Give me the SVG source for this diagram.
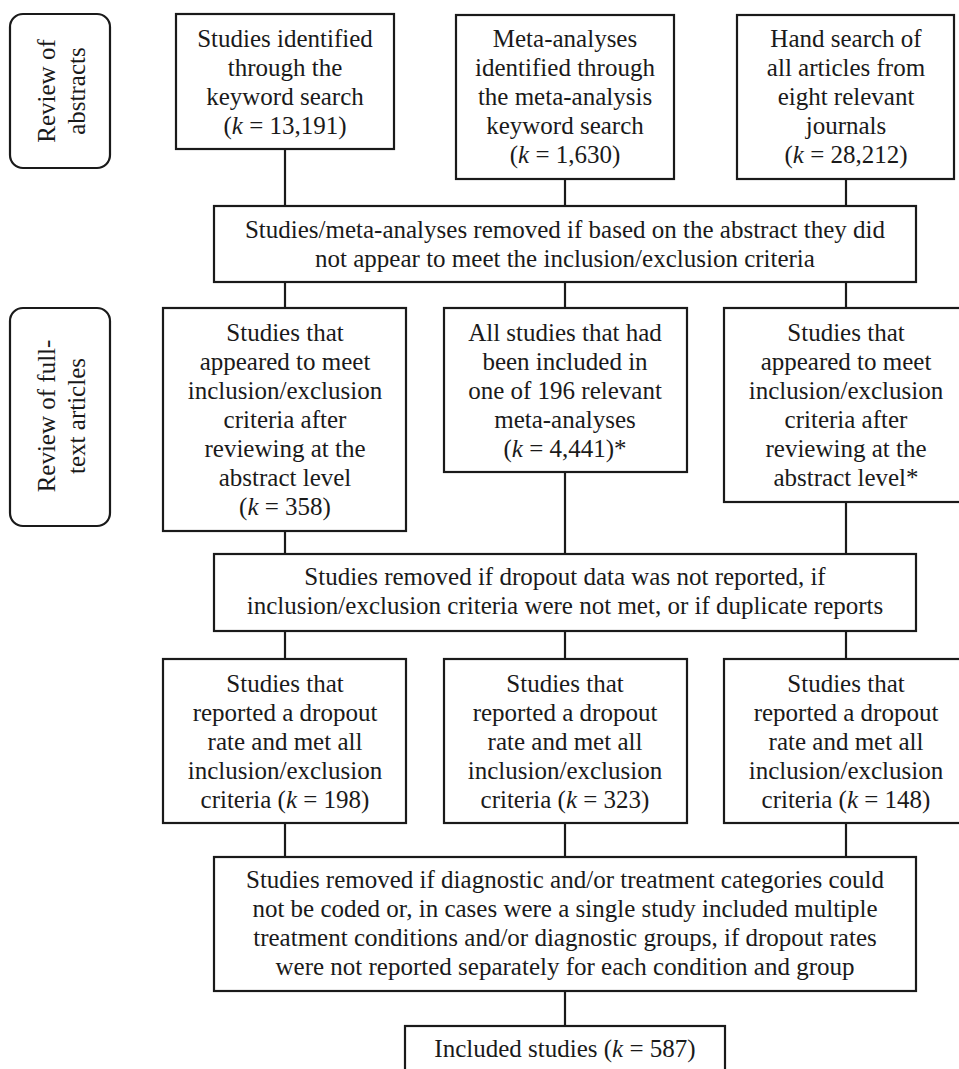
<svg xmlns="http://www.w3.org/2000/svg" width="959" height="1069" viewBox="0 0 959 1069">
<style>
.box{fill:#fff;stroke:#1a1a1a;stroke-width:2.2}
.lbl{fill:#fff;stroke:#1a1a1a;stroke-width:2.2}
.ln{stroke:#1a1a1a;stroke-width:2.2;fill:none}
text{font-family:"Liberation Serif","Times New Roman",serif;font-size:25px;fill:#1a1a1a;text-anchor:middle}
.k{font-style:italic}
</style>
<rect width="959" height="1069" fill="#fff"/>
<g id="connectors">
<line class="ln" x1="285" y1="149" x2="285" y2="206"/>
<line class="ln" x1="565" y1="179" x2="565" y2="206"/>
<line class="ln" x1="846" y1="179" x2="846" y2="206"/>
<line class="ln" x1="285" y1="282" x2="285" y2="308"/>
<line class="ln" x1="565" y1="282" x2="565" y2="308"/>
<line class="ln" x1="846" y1="282" x2="846" y2="308"/>
<line class="ln" x1="285" y1="531" x2="285" y2="554"/>
<line class="ln" x1="565" y1="472" x2="565" y2="554"/>
<line class="ln" x1="846" y1="502" x2="846" y2="554"/>
<line class="ln" x1="285" y1="631" x2="285" y2="659"/>
<line class="ln" x1="565" y1="631" x2="565" y2="659"/>
<line class="ln" x1="846" y1="631" x2="846" y2="659"/>
<line class="ln" x1="285" y1="823" x2="285" y2="857"/>
<line class="ln" x1="565" y1="823" x2="565" y2="857"/>
<line class="ln" x1="846" y1="823" x2="846" y2="857"/>
<line class="ln" x1="565" y1="991" x2="565" y2="1026"/>
</g>
<g id="stage-abstracts">
<rect class="lbl" x="10" y="14" width="100" height="154" rx="13"/>
<g transform="translate(60,91) rotate(-90)">
<text x="0" y="-5">Review of</text>
<text x="0" y="25">abstracts</text>
</g>
</g>
<g id="stage-fulltext">
<rect class="lbl" x="10" y="308" width="100" height="218" rx="13"/>
<g transform="translate(60,416) rotate(-90)">
<text x="0" y="-5">Review of full-</text>
<text x="0" y="25">text articles</text>
</g>
</g>
<g id="a1">
<rect class="box" x="176" y="14" width="218" height="135"/>
<text x="285" y="47">Studies identified</text>
<text x="285" y="76">through the</text>
<text x="285" y="105">keyword search</text>
<text x="285" y="134">(<tspan class="k">k</tspan> = 13,191)</text>
</g>
<g id="a2">
<rect class="box" x="456" y="15" width="218" height="164"/>
<text x="565" y="47">Meta-analyses</text>
<text x="565" y="76">identified through</text>
<text x="565" y="105">the meta-analysis</text>
<text x="565" y="134">keyword search</text>
<text x="565" y="163">(<tspan class="k">k</tspan> = 1,630)</text>
</g>
<g id="a3">
<rect class="box" x="737" y="15" width="217" height="164"/>
<text x="846" y="47">Hand search of</text>
<text x="846" y="76">all articles from</text>
<text x="846" y="105">eight relevant</text>
<text x="846" y="134">journals</text>
<text x="846" y="163">(<tspan class="k">k</tspan> = 28,212)</text>
</g>
<g id="removed-abstract">
<rect class="box" x="214" y="206" width="702" height="76"/>
<text x="565" y="238">Studies/meta-analyses removed if based on the abstract they did</text>
<text x="565" y="267">not appear to meet the inclusion/exclusion criteria</text>
</g>
<g id="b1">
<rect class="box" x="163" y="308" width="243" height="223"/>
<text x="285" y="341">Studies that</text>
<text x="285" y="370">appeared to meet</text>
<text x="285" y="399">inclusion/exclusion</text>
<text x="285" y="428">criteria after</text>
<text x="285" y="457">reviewing at the</text>
<text x="285" y="486">abstract level</text>
<text x="285" y="515">(<tspan class="k">k</tspan> = 358)</text>
</g>
<g id="b2">
<rect class="box" x="444" y="308" width="243" height="164"/>
<text x="565" y="341">All studies that had</text>
<text x="565" y="370">been included in</text>
<text x="565" y="399">one of 196 relevant</text>
<text x="565" y="428">meta-analyses</text>
<text x="565" y="457">(<tspan class="k">k</tspan> = 4,441)*</text>
</g>
<g id="b3">
<rect class="box" x="724" y="308" width="244" height="194"/>
<text x="846" y="341">Studies that</text>
<text x="846" y="370">appeared to meet</text>
<text x="846" y="399">inclusion/exclusion</text>
<text x="846" y="428">criteria after</text>
<text x="846" y="457">reviewing at the</text>
<text x="846" y="486">abstract level*</text>
</g>
<g id="removed-fulltext">
<rect class="box" x="214" y="554" width="702" height="77"/>
<text x="565" y="585">Studies removed if dropout data was not reported, if</text>
<text x="565" y="614">inclusion/exclusion criteria were not met, or if duplicate reports</text>
</g>
<g id="c1">
<rect class="box" x="163" y="659" width="243" height="164"/>
<text x="285" y="692">Studies that</text>
<text x="285" y="721">reported a dropout</text>
<text x="285" y="750">rate and met all</text>
<text x="285" y="779">inclusion/exclusion</text>
<text x="285" y="808">criteria (<tspan class="k">k</tspan> = 198)</text>
</g>
<g id="c2">
<rect class="box" x="444" y="659" width="243" height="164"/>
<text x="565" y="692">Studies that</text>
<text x="565" y="721">reported a dropout</text>
<text x="565" y="750">rate and met all</text>
<text x="565" y="779">inclusion/exclusion</text>
<text x="565" y="808">criteria (<tspan class="k">k</tspan> = 323)</text>
</g>
<g id="c3">
<rect class="box" x="724" y="659" width="244" height="164"/>
<text x="846" y="692">Studies that</text>
<text x="846" y="721">reported a dropout</text>
<text x="846" y="750">rate and met all</text>
<text x="846" y="779">inclusion/exclusion</text>
<text x="846" y="808">criteria (<tspan class="k">k</tspan> = 148)</text>
</g>
<g id="removed-coding">
<rect class="box" x="214" y="857" width="702" height="134"/>
<text x="565" y="888">Studies removed if diagnostic and/or treatment categories could</text>
<text x="565" y="917">not be coded or, in cases were a single study included multiple</text>
<text x="565" y="946">treatment conditions and/or diagnostic groups, if dropout rates</text>
<text x="565" y="975">were not reported separately for each condition and group</text>
</g>
<g id="included">
<rect class="box" x="405" y="1026" width="320" height="60"/>
<text x="565" y="1057">Included studies (<tspan class="k">k</tspan> = 587)</text>
</g>
</svg>
